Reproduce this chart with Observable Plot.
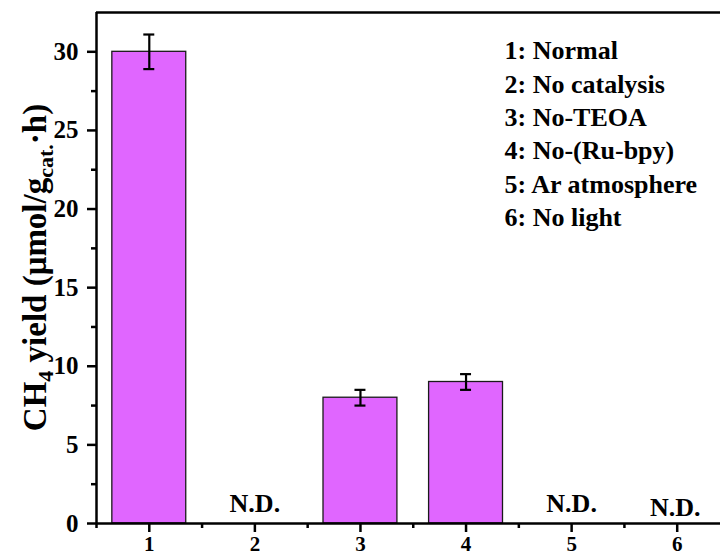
<!DOCTYPE html>
<html>
<head>
<meta charset="utf-8">
<script src="https://cdn.jsdelivr.net/npm/d3@7"></script>
<script src="https://cdn.jsdelivr.net/npm/@observablehq/plot@0.6"></script>
<style>
  html, body { margin: 0; padding: 0; background: #fff; }
  #chart svg { display: block; }
</style>
</head>
<body>
<div id="chart"></div>
<script>
// CH4 yield under control conditions
const sampleIds   = [1, 2, 3, 4, 5, 6];
const conditions  = ["Normal", "No catalysis", "No-TEOA", "No-(Ru-bpy)", "Ar atmosphere", "No light"];
const yieldValues = [30, null, 8, 9, null, null];      // μmol/g_cat.·h, null = not detected
const yieldErrors = [1.1, null, 0.5, 0.5, null, null];
const yTicks      = [0, 5, 10, 15, 20, 25, 30];
const yMinorTicks = [2.5, 7.5, 12.5, 17.5, 22.5, 27.5];
const xMinorTicks = [0.5, 1.5, 2.5, 3.5, 4.5, 5.5];
const notDetected = "N.D.";

const rows = sampleIds.map((id, i) => ({id, condition: conditions[i], value: yieldValues[i], err: yieldErrors[i]}));
const measured = rows.filter(d => d.value != null);
const missing  = rows.filter(d => d.value == null);
const legendText = rows.map(d => `${d.id}: ${d.condition}`).join("\n");

const serif = "'Liberation Serif', 'Times New Roman', serif";
const barHalf = 0.35;
const capHalf = 0.052;
const lw = 2.5;
const yMax = 32.5;

const svg = Plot.plot({
  width: 720,
  height: 559,
  marginLeft: 96,
  marginRight: 0,
  marginTop: 12,
  marginBottom: 36,
  style: {fontFamily: serif, fontWeight: "bold", fontSize: "24px", color: "#000", background: "#fff", overflow: "hidden"},
  x: {domain: [0.5, 6.41]},
  y: {domain: [0, yMax]},
  marks: [
    Plot.rectY(measured, {
      x1: d => d.id - barHalf, x2: d => d.id + barHalf, y1: 0, y2: "value",
      fill: "#E066FF", stroke: "#1a1a1a", strokeWidth: 1.3
    }),
    // error bars
    Plot.ruleX(measured, {x: "id", y1: d => d.value - d.err, y2: d => d.value + d.err, stroke: "#000", strokeWidth: 2.2}),
    Plot.ruleY(measured, {y: d => d.value + d.err, x1: d => d.id - capHalf, x2: d => d.id + capHalf, stroke: "#000", strokeWidth: 2.2}),
    Plot.ruleY(measured, {y: d => d.value - d.err, x1: d => d.id - capHalf, x2: d => d.id + capHalf, stroke: "#000", strokeWidth: 2.2}),
    // not-detected markers
    Plot.text(missing.filter(d => d.id !== 6), {x: "id", y: 0, text: () => notDetected, lineAnchor: "bottom", dy: -12, fontSize: 26, fontWeight: "bold"}),
    Plot.text(missing.filter(d => d.id === 6), {x: "id", y: 0, text: () => notDetected, lineAnchor: "bottom", dy: -8, dx: -2, fontSize: 26, fontWeight: "bold"}),
    // condition key
    Plot.text([legendText], {frameAnchor: "top-left", dx: 408, dy: 23, text: d => d, textAnchor: "start", lineAnchor: "top", lineHeight: 1.285, fontSize: 26, fontWeight: "bold"}),
    // axes and frame
    Plot.axisY({ticks: yTicks, tickSize: 9, tickPadding: 9, fontSize: 25, strokeWidth: lw, label: null}),
    Plot.axisY({ticks: yMinorTicks, tickSize: 5, text: null, strokeWidth: lw, label: null}),
    Plot.axisX({ticks: sampleIds, tickFormat: d3.format("d"), tickSize: 9, tickPadding: 4, fontSize: 21, strokeWidth: lw, label: null}),
    Plot.axisX({ticks: xMinorTicks, tickSize: 5, text: null, strokeWidth: lw, label: null}),
    Plot.ruleX([0.5], {strokeWidth: lw}),
    Plot.ruleY([0], {strokeWidth: lw}),
    Plot.ruleY([yMax], {strokeWidth: lw})
  ]
});

// y-axis title with subscripts
const title = d3.select(svg).append("text")
  .attr("transform", `translate(46,${(12 + 523) / 2}) rotate(-90)`)
  .attr("text-anchor", "middle")
  .attr("font-family", serif)
  .attr("font-weight", "bold")
  .attr("font-size", 33)
  .attr("fill", "#000");
title.append("tspan").text("CH");
title.append("tspan").attr("font-size", 22).attr("dy", 7).text("4");
title.append("tspan").attr("dy", -7).text(" yield (μmol/g");
title.append("tspan").attr("font-size", 22).attr("dy", 7).text("cat.");
title.append("tspan").attr("dy", -7).text("·h)");

document.getElementById("chart").appendChild(svg);
</script>
</body>
</html>
